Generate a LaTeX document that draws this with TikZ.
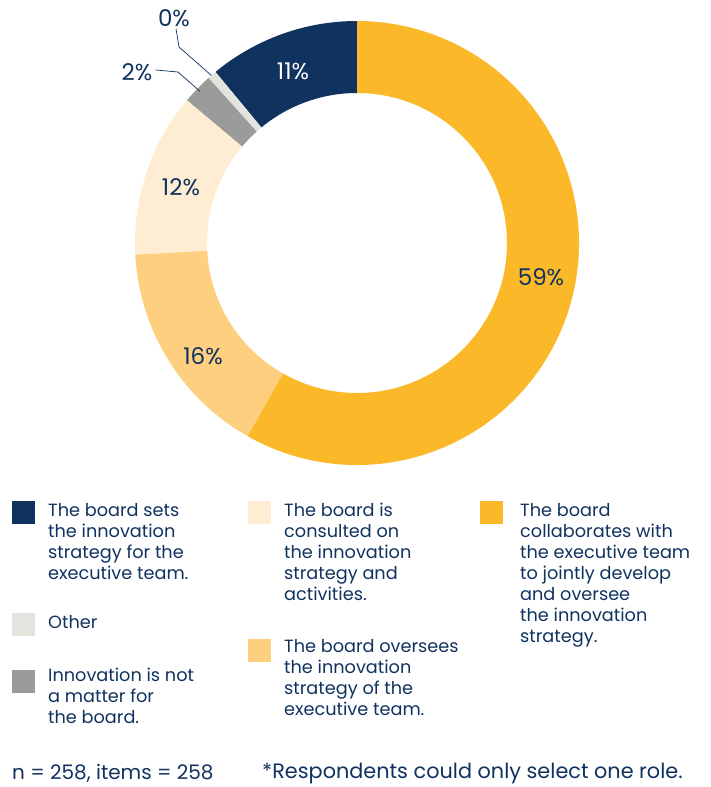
\documentclass[tikz,border=0pt]{standalone}
\usepackage{fontspec}
\setmainfont{Poppins}
\usetikzlibrary{positioning}

\definecolor{navy}{HTML}{10325F}
\definecolor{gold}{HTML}{FBB829}
\definecolor{peach}{HTML}{FECF7F}
\definecolor{cream}{HTML}{FEEDD2}
\definecolor{stone}{HTML}{9A9B9A}
\definecolor{mist}{HTML}{E4E4DF}

\newcommand{\donutpart}[3]{\fill[#3] (#1:222) arc (#1:#2:222) -- (#2:150) arc (#2:#1:150) -- cycle;}

\tikzset{
  pct/.style={font=\fontsize{23}{26}\selectfont, text=navy, inner sep=0pt},
  keybox/.style={minimum width=23pt, minimum height=23pt, inner sep=0pt, anchor=north west},
  keytext/.style={font=\fontsize{17.7}{21}\selectfont, text=navy, align=left, anchor=north west, inner sep=0pt},
  foot/.style={font=\fontsize{20}{24}\selectfont, text=navy, anchor=west, inner sep=0pt},
  leader/.style={draw=navy, line width=0.7pt}
}

\begin{document}
\begin{tikzpicture}[x=1pt,y=-1pt]
\useasboundingbox (0,0) rectangle (711,787);

% the ring
\begin{scope}[shift={(357,243)}, yscale=-1]
  \donutpart{90}{129.6}{navy}
  \donutpart{129.6}{132}{mist}
  \donutpart{132}{140}{stone}
  \donutpart{140}{183}{cream}
  \donutpart{183}{240.5}{peach}
  \donutpart{240.5}{450}{gold}
  \coordinate (othertip) at (131:222);
  \coordinate (stonetip) at (136:218);
\end{scope}

% shares
\node[pct, text=white] (p11) at (293,71) {11\%};
\node[pct] (p12) at (181,187) {12\%};
\node[pct] (p16) at (203,356) {16\%};
\node[pct] (p59) at (541,277) {59\%};
\node[pct] (p0) at (174,18) {0\%};
\node[pct] (p2) at (137,72) {2\%};

\coordinate (bend0) at (179,47);
\coordinate (bend2) at (178,72);
\draw[leader] (p0.south) ++(2,2) -- (bend0) -- (othertip);
\draw[leader] (p2.east) ++(3,-2) -- (bend2) -- (stonetip);

% legend
\node[keybox, fill=navy] (k1) at (12,501) {};
\node[keytext] (t1) at (48,503) {The board sets\\the innovation\\strategy for the\\executive team.};
\node[keybox, fill=mist] (k2) at (12,613) {};
\node[keytext] (t2) at (48,615) {Other};
\node[keybox, fill=stone] (k3) at (12,670) {};
\node[keytext] (t3) at (48,668) {Innovation is not\\a matter for\\the board.};

\node[keybox, fill=cream] (k4) at (248,501) {};
\node[keytext] (t4) at (284,503) {The board is\\consulted on\\the innovation\\strategy and\\activities.};
\node[keybox, fill=peach] (k5) at (248,639) {};
\node[keytext] (t5) at (284,639) {The board oversees\\the innovation\\strategy of the\\executive team.};

\node[keybox, fill=gold] (k6) at (480,501) {};
\node[keytext] (t6) at (520,503) {The board\\collaborates with\\the executive team\\to jointly develop\\and oversee\\the innovation\\strategy.};

% footer
\node[foot] (n) at (12,773) {n = 258, items = 258};
\node[foot, font=\fontsize{20.8}{24}\selectfont] (note) at (262,773) {*Respondents could only select one role.};
\end{tikzpicture}
\end{document}
